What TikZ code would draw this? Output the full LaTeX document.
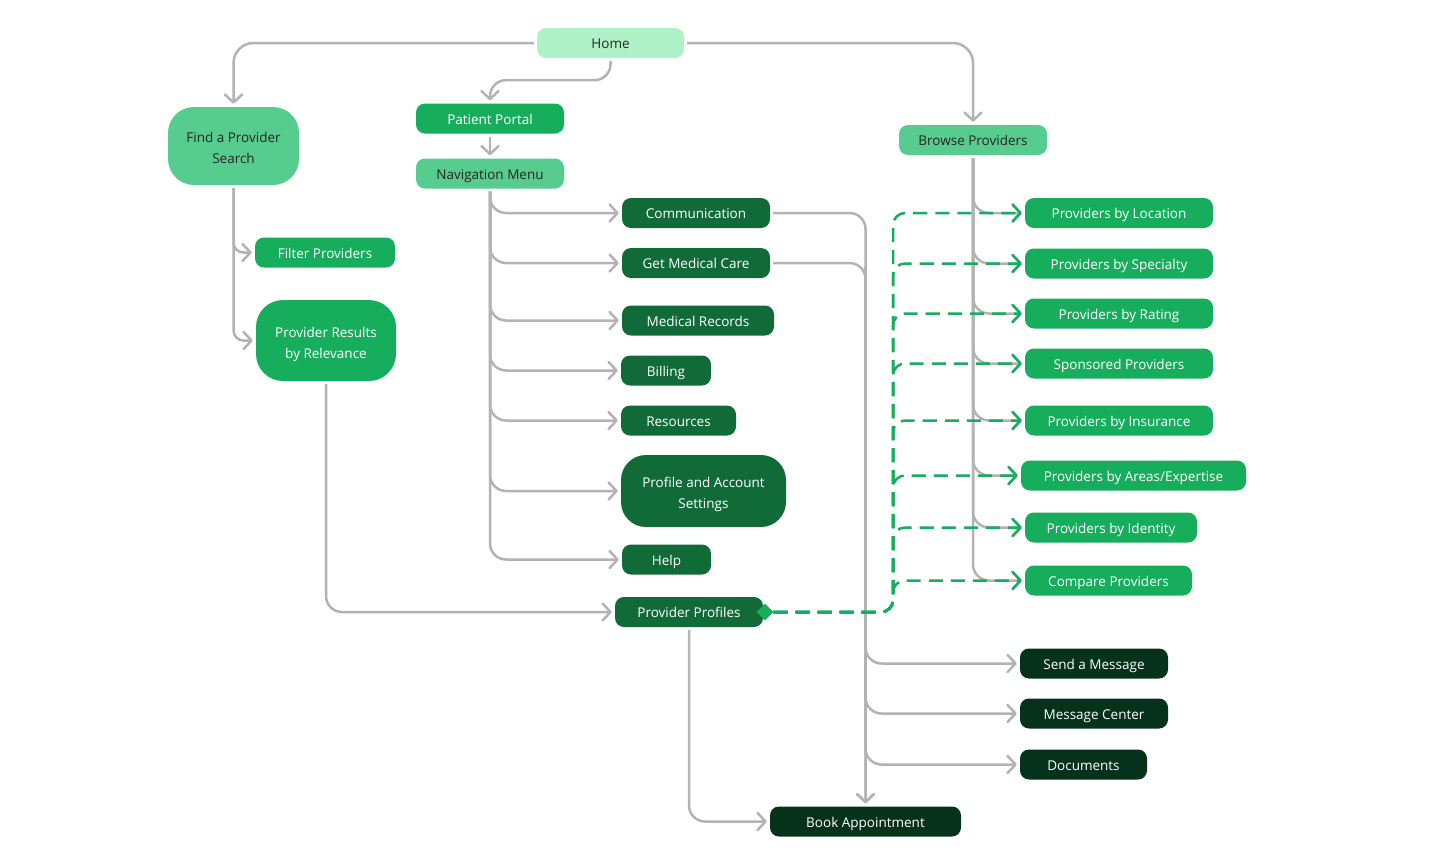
\documentclass[tikz,border=0pt]{standalone}
\usepackage{fontspec}
\setmainfont{Open Sans}
\usetikzlibrary{arrows.meta,shapes.geometric}

\definecolor{mint}{HTML}{AFF2C8}
\definecolor{leaf}{HTML}{57CC8F}
\definecolor{grass}{HTML}{16AE5C}
\definecolor{forest}{HTML}{116B39}
\definecolor{pine}{HTML}{06321C}
\definecolor{wire}{HTML}{B3B3B3}

\begin{document}
\begin{tikzpicture}[x=1pt,y=-1pt]
\tikzstyle{box}=[rounded corners=9pt, minimum height=30pt, inner sep=0pt, align=center, text height=11.6pt, text depth=0pt, font=\fontsize{13.5}{21}\selectfont]
\tikzstyle{twoline}=[text height=35pt, text depth=0pt]
\tikzstyle{mintbox}=[box, fill=mint, text=black!85]
\tikzstyle{leafbox}=[box, fill=leaf, text=black!85]
\tikzstyle{grassbox}=[box, fill=grass, text=white]
\tikzstyle{forestbox}=[box, fill=forest, text=white]
\tikzstyle{pinebox}=[box, fill=pine, text=white]
\tikzstyle{link}=[draw=wire, line width=2.5pt, rounded corners=16pt, shorten <=3pt, shorten >=3pt, -{Straight Barb[length=8pt,width=17pt,round]}]
\tikzstyle{dlink}=[draw=grass, line width=2.5pt, dash pattern=on 14pt off 8pt, rounded corners=12pt, shorten >=3pt, -{Straight Barb[length=8pt,width=17pt,round]}]

\useasboundingbox (0,0) rectangle (1440,865);

% top
\node[mintbox, minimum width=147pt] (home) at (610.5,43) {Home};
\node[leafbox, twoline, minimum width=131pt, minimum height=78pt, rounded corners=26pt] (find) at (233.5,146) {Find a Provider\\Search};
\node[grassbox, minimum width=148pt] (portal) at (490,118.5) {Patient Portal};
\node[leafbox, minimum width=148pt] (nav) at (490,173.5) {Navigation Menu};
\node[leafbox, minimum width=148pt] (browse) at (973,140) {Browse Providers};

% search side
\node[grassbox, minimum width=140pt] (filter) at (325,252.5) {Filter Providers};
\node[grassbox, twoline, minimum width=140pt, minimum height=81pt, rounded corners=27pt] (results) at (326,340.5) {Provider Results\\by Relevance};

% portal menu
\node[forestbox, minimum width=148pt] (comm) at (696,213) {Communication};
\node[forestbox, minimum width=148pt] (care) at (696,263) {Get Medical Care};
\node[forestbox, minimum width=152pt] (records) at (698,320.5) {Medical Records};
\node[forestbox, minimum width=90pt] (billing) at (666,370.5) {Billing};
\node[forestbox, minimum width=115pt] (resources) at (678.5,420.5) {Resources};
\node[forestbox, twoline, minimum width=165pt, minimum height=72pt, rounded corners=25pt] (settings) at (703.5,491) {Profile and Account\\Settings};
\node[forestbox, minimum width=89pt] (help) at (666.5,559.5) {Help};
\node[forestbox, minimum width=148pt] (profiles) at (689,612) {Provider Profiles};
\node[diamond, fill=grass, minimum size=17pt, inner sep=0pt] (ppd) at (765,612) {};

% browse list
\node[grassbox, minimum width=188pt] (location) at (1119,213) {Providers by Location};
\node[grassbox, minimum width=188pt] (specialty) at (1119,263.5) {Providers by Specialty};
\node[grassbox, minimum width=188pt] (rating) at (1119,313.5) {Providers by Rating};
\node[grassbox, minimum width=188pt] (sponsored) at (1119,363.5) {Sponsored Providers};
\node[grassbox, minimum width=188pt] (insurance) at (1119,420.5) {Providers by Insurance};
\node[grassbox, minimum width=225pt] (expertise) at (1133.5,475.5) {Providers by Areas/Expertise};
\node[grassbox, minimum width=172pt] (identity) at (1111,527.5) {Providers by Identity};
\node[grassbox, minimum width=167pt] (compare) at (1108.5,580.5) {Compare Providers};

% messages
\node[pinebox, minimum width=148pt] (send) at (1094,663.5) {Send a Message};
\node[pinebox, minimum width=148pt] (center) at (1094,713.5) {Message Center};
\node[pinebox, minimum width=127pt] (docs) at (1083.5,764.5) {Documents};
\node[pinebox, minimum width=191pt] (book) at (865.5,821.5) {Book Appointment};

\coordinate (gbus) at (893,400);

% grey links
\draw[link, rounded corners=20pt] (home.west) -| (find.north);
\draw[link] (home.south) -- ++(0,22) -| (portal.north);
\draw[link, rounded corners=20pt] (home.east) -| (browse.north);
\draw[link] (portal.south) -- (nav.north);
\draw[link, rounded corners=10pt] (find.south) |- (filter.west);
\draw[link, rounded corners=10pt] (find.south) |- (results.west);
\draw[link] (results.south) |- (profiles.west);
\foreach \t in {comm,care,records,billing,resources,settings,help}
  \draw[link] (nav.south) |- (\t.west);
\draw[link] (comm.east) -| (book.north);
\draw[link] (care.east) -| (book.north);
\foreach \t in {send,center,docs}
  \draw[link] (care.east -| book.north) |- (\t.west);
\draw[link] (profiles.south) |- (book.west);
\foreach \t in {location,specialty,rating,sponsored,insurance,expertise,identity,compare}
  \draw[link] (browse.south) |- (\t.west);

% green dashed links
\foreach \t in {location,specialty,rating,sponsored,insurance,expertise,identity,compare}
  \draw[dlink] (ppd.east) -| (\t.west -| gbus) -- (\t.west);
\end{tikzpicture}
\end{document}
